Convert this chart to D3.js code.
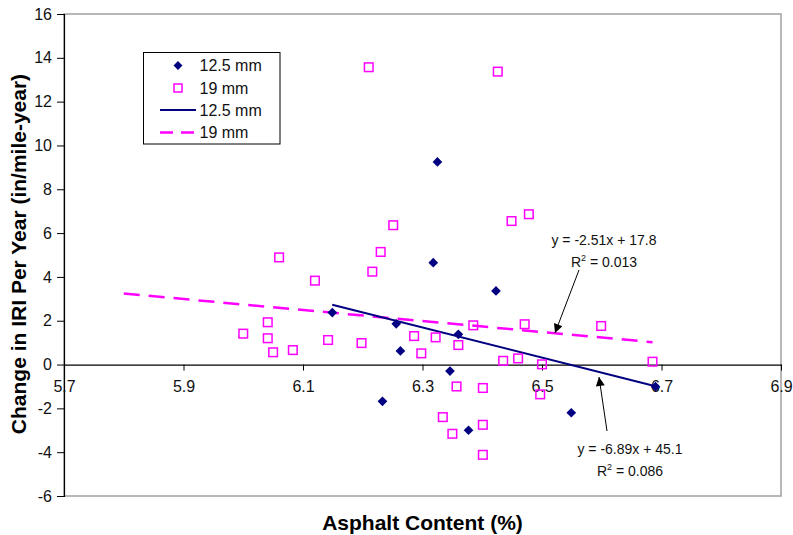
<!DOCTYPE html>
<html>
<head>
<meta charset="utf-8">
<script src="https://cdn.jsdelivr.net/npm/d3@7"></script>
<style>
  body { margin: 0; background: #fff; }
  svg { font-family: "Liberation Sans", Arial, sans-serif; }
</style>
</head>
<body>
<svg id="chart" width="793" height="535"></svg>
<script>
// 12.5 mm mix
const x125 = [6.149, 6.233, 6.256, 6.263, 6.318, 6.325, 6.346, 6.360, 6.377, 6.423, 6.549, 6.690];
const y125 = [2.37, -1.68, 1.86, 0.62, 4.65, 9.25, -0.30, 1.38, -3.00, 3.36, -2.20, -1.01];

// 19 mm mix
const x19 = [6.000, 6.041, 6.041, 6.050, 6.060, 6.083, 6.120, 6.142, 6.198, 6.210, 6.216, 6.230,
  6.251, 6.286, 6.298, 6.322, 6.334, 6.350, 6.357, 6.360, 6.385, 6.401, 6.401, 6.401,
  6.426, 6.435, 6.449, 6.460, 6.471, 6.478, 6.497, 6.500, 6.599, 6.685];
const y19 = [1.41, 1.93, 1.20, 0.56, 4.89, 0.66, 3.83, 1.12, 0.98, 13.57, 4.24, 5.14,
  6.36, 1.30, 0.51, 1.24, -2.40, -3.16, -1.00, 0.89, 1.79, -1.07, -2.75, -4.12,
  13.37, 0.17, 6.55, 0.28, 1.84, 6.86, -1.36, 0.01, 1.76, 0.13];

// trendlines (slope, intercept, x range)
const fit125 = { m: -6.89, b: 45.1, x0: 6.149, x1: 6.690 };
const fit19 = { m: -2.51, b: 17.8, x0: 5.8, x1: 6.685 };

const xTicks = [5.7, 5.9, 6.1, 6.3, 6.5, 6.7, 6.9];
const yTicks = [-6, -4, -2, 0, 2, 4, 6, 8, 10, 12, 14, 16];

const svg = d3.select("#chart");
const mLeft = 64, mRight = 781, mTop = 14, mBottom = 496;

const x = d3.scaleLinear().domain([5.7, 6.9]).range([mLeft, mRight]);
const y = d3.scaleLinear().domain([-6, 16]).range([mBottom, mTop]);

const navy = "#000080", pink = "#ff00ff";

// frame
svg.append("rect")
  .attr("x", mLeft).attr("y", mTop)
  .attr("width", mRight - mLeft).attr("height", mBottom - mTop)
  .attr("fill", "none").attr("stroke", "#a0a0a0").attr("stroke-width", 1.5);

// y axis
const yAxis = svg.append("g")
  .attr("transform", `translate(${mLeft},0)`)
  .call(d3.axisLeft(y).tickValues(yTicks).tickSize(7).tickPadding(5).tickFormat(d => String(d)));
yAxis.selectAll("text").attr("font-size", 16).attr("fill", "#111").attr("font-family", "Liberation Sans, Arial");
yAxis.select(".domain").attr("stroke", "#000").attr("stroke-width", 1.2);

// x axis at zero
const xAxis = svg.append("g")
  .attr("transform", `translate(0,${y(0)})`)
  .call(d3.axisBottom(x).tickValues(xTicks).tickSize(6).tickPadding(10).tickSizeOuter(0).tickFormat(d => d.toFixed(1)));
xAxis.selectAll("text").attr("font-size", 16).attr("fill", "#111").attr("font-family", "Liberation Sans, Arial");
xAxis.select(".domain").attr("stroke", "#000").attr("stroke-width", 1.2);

// trendlines
const line = d3.line().x(d => x(d[0])).y(d => y(d[1]));
svg.append("path")
  .attr("d", line([[fit19.x0, fit19.m * fit19.x0 + fit19.b], [fit19.x1, fit19.m * fit19.x1 + fit19.b]]))
  .attr("stroke", pink).attr("stroke-width", 2.5).attr("stroke-dasharray", "16,9").attr("fill", "none");
svg.append("path")
  .attr("d", line([[fit125.x0, fit125.m * fit125.x0 + fit125.b], [fit125.x1, fit125.m * fit125.x1 + fit125.b]]))
  .attr("stroke", navy).attr("stroke-width", 2).attr("fill", "none");

// points
const diamond = d3.symbol().type(d3.symbolDiamond2).size(60);
svg.append("g").selectAll("path")
  .data(x125.map((v, i) => [v, y125[i]]))
  .join("path")
  .attr("d", diamond)
  .attr("transform", d => `translate(${x(d[0])},${y(d[1])})`)
  .attr("fill", navy);

svg.append("g").selectAll("rect")
  .data(x19.map((v, i) => [v, y19[i]]))
  .join("rect")
  .attr("x", d => x(d[0]) - 4.3).attr("y", d => y(d[1]) - 4.3)
  .attr("width", 8.6).attr("height", 8.6)
  .attr("fill", "none").attr("stroke", pink).attr("stroke-width", 1.5);

// annotations
svg.append("defs").append("marker")
  .attr("id", "arr").attr("viewBox", "0 0 10 10")
  .attr("refX", 10).attr("refY", 5)
  .attr("markerWidth", 12).attr("markerHeight", 9).attr("markerUnits", "userSpaceOnUse")
  .attr("orient", "auto")
  .append("path").attr("d", "M0,0L10,5L0,10Z").attr("fill", "#000");

function note(cx, by, eq, r2) {
  svg.append("text").attr("x", cx).attr("y", by)
    .attr("text-anchor", "middle").attr("font-size", 14).attr("fill", "#111").text(eq);
  const r = svg.append("text").attr("x", cx).attr("y", by + 22)
    .attr("text-anchor", "middle").attr("font-size", 14).attr("fill", "#111");
  r.append("tspan").text("R");
  r.append("tspan").attr("font-size", 9).attr("dy", -6).text("2");
  r.append("tspan").attr("dy", 6).text(" = " + r2);
}
note(604, 245, "y = -2.51x + 17.8", "0.013");
note(630, 454, "y = -6.89x + 45.1", "0.086");

svg.append("line").attr("x1", 579).attr("y1", 270).attr("x2", 555).attr("y2", 333)
  .attr("stroke", "#000").attr("stroke-width", 1).attr("marker-end", "url(#arr)");
svg.append("line").attr("x1", 607).attr("y1", 431).attr("x2", 599).attr("y2", 377)
  .attr("stroke", "#000").attr("stroke-width", 1).attr("marker-end", "url(#arr)");

// legend
const lg = svg.append("g");
lg.append("rect").attr("x", 143.5).attr("y", 52.5).attr("width", 136.5).attr("height", 91.5)
  .attr("fill", "#fff").attr("stroke", "#000").attr("stroke-width", 1);
const rows = [65.5, 88, 110, 132.5];
lg.append("path").attr("d", d3.symbol().type(d3.symbolDiamond2).size(50))
  .attr("transform", `translate(178,${rows[0]})`).attr("fill", navy);
lg.append("rect").attr("x", 174).attr("y", rows[1] - 4).attr("width", 8).attr("height", 8)
  .attr("fill", "none").attr("stroke", pink).attr("stroke-width", 1.5);
lg.append("line").attr("x1", 160).attr("x2", 196).attr("y1", rows[2]).attr("y2", rows[2])
  .attr("stroke", navy).attr("stroke-width", 2);
lg.append("line").attr("x1", 160).attr("x2", 197).attr("y1", rows[3]).attr("y2", rows[3])
  .attr("stroke", pink).attr("stroke-width", 2.5).attr("stroke-dasharray", "13,8");
["12.5 mm", "19 mm", "12.5 mm", "19 mm"].forEach((s, i) => {
  lg.append("text").attr("x", 199.5).attr("y", rows[i] + 5.8)
    .attr("font-size", 16).attr("fill", "#111").text(s);
});

// axis titles
svg.append("text").attr("x", (mLeft + mRight) / 2).attr("y", 530)
  .attr("text-anchor", "middle").attr("font-size", 21).attr("font-weight", "bold")
  .attr("fill", "#000").text("Asphalt Content (%)");
svg.append("text").attr("transform", `translate(26,${254}) rotate(-90)`)
  .attr("text-anchor", "middle").attr("font-size", 21).attr("font-weight", "bold")
  .attr("fill", "#000").text("Change in IRI Per Year (in/mile-year)");
</script>
</body>
</html>
